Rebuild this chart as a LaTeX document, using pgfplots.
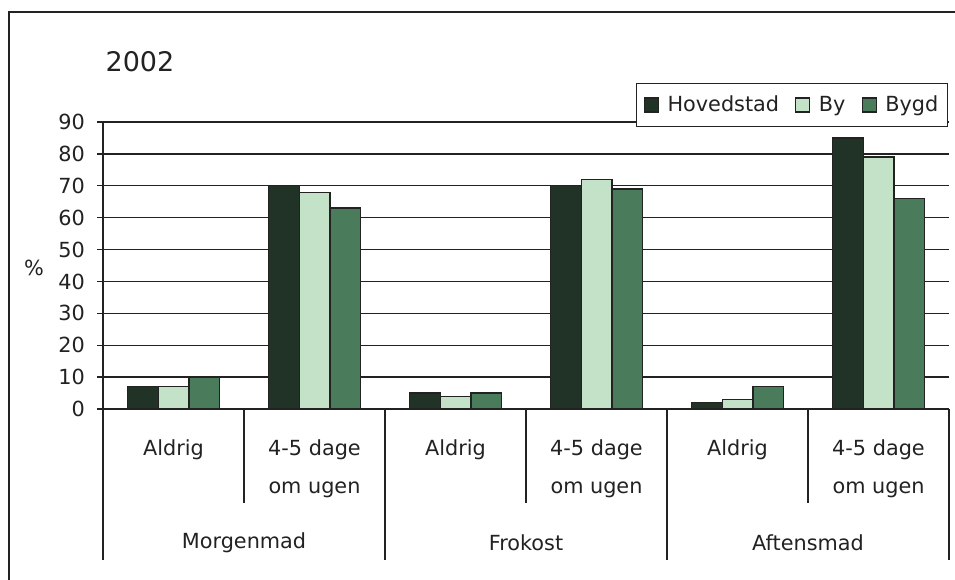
\documentclass[border=0pt]{standalone}
\usepackage{pgfplots}
\pgfplotsset{compat=1.18}
\usepackage{fontspec}
\setmainfont{DejaVu Sans}
\definecolor{hov}{RGB}{33,50,38}
\definecolor{by}{RGB}{196,226,200}
\definecolor{bygd}{RGB}{74,124,92}
\definecolor{ln}{RGB}{34,34,34}
\begin{document}
\fontsize{20.8}{25}\selectfont
\begin{tikzpicture}[x=1pt,y=1pt]
\useasboundingbox (0,0) rectangle (955,580);
\draw[ln, line width=1.6pt] (9,0) -- (9,568) -- (955,568);
\node[font=\fontsize{27}{32}\selectfont, text=ln] at (140,518) {2002};
\node[text=ln] at (34,312) {\%};
\begin{axis}[
  at={(103pt,171pt)}, anchor=south west,
  scale only axis, width=846pt, height=287pt,
  xmin=0, xmax=6, ymin=0, ymax=90,
  axis lines=left,
  axis line style={-, line width=1.3pt, ln},
  xtick=\empty,
  ytick={0,10,...,90},
  ymajorgrids, grid style={line width=1.3pt, ln},
  ytick align=outside, major tick length=6pt,
  tick style={line width=1.3pt, ln},
  yticklabel style={text=ln, font=\fontsize{20.8}{25}\selectfont, xshift=-5pt},
  /pgf/number format/assume math mode=true,
  ybar=0pt, bar width=30.7pt,
  clip=false,
  legend columns=3,
  legend image code/.code={\draw[#1, line width=1.3pt] (0pt,-7pt) rectangle (14pt,7pt);},
  legend style={at={(0.9988,1.1359)}, anchor=north east, draw=ln, line width=1.3pt,
    fill=white, font=\fontsize{20.8}{25}\selectfont, text=ln,
    inner xsep=7pt, inner ysep=10pt,
    /tikz/every odd column/.append style={column sep=6.5pt},
    /tikz/every even column/.append style={column sep=14pt}},
]
\addplot[fill=hov, draw=ln, line width=1.3pt] coordinates {(0.5,7)(1.5,70)(2.5,5)(3.5,70)(4.5,2)(5.5,85)};
\addplot[fill=by, draw=ln, line width=1.3pt] coordinates {(0.5,7)(1.5,68)(2.5,4)(3.5,72)(4.5,3)(5.5,79)};
\addplot[fill=bygd, draw=ln, line width=1.3pt] coordinates {(0.5,10)(1.5,63)(2.5,5)(3.5,69)(4.5,7)(5.5,66)};
\legend{Hovedstad, By, Bygd}
\draw[ln, line width=1.3pt] (axis cs:0,0) -- ++(0pt,-151pt);
\pgfplotsinvokeforeach{1,3,5}{\draw[ln, line width=1.3pt] (axis cs:#1,0) -- ++(0pt,-94pt);}
\pgfplotsinvokeforeach{2,4,6}{\draw[ln, line width=1.3pt] (axis cs:#1,0) -- ++(0pt,-151pt);}
\pgfplotsinvokeforeach{0.5,2.5,4.5}{\node[text=ln] at (axis cs:#1,0) [yshift=-41pt] {Aldrig};}
\pgfplotsinvokeforeach{1.5,3.5,5.5}{\node[text=ln, align=center, font=\fontsize{20.8}{38}\selectfont] at (axis cs:#1,0) [yshift=-60pt] {4-5 dage\\om ugen};}
\node[text=ln] at (axis cs:1,0) [yshift=-134pt] {Morgenmad};
\node[text=ln] at (axis cs:3,0) [yshift=-134pt] {Frokost};
\node[text=ln] at (axis cs:5,0) [yshift=-134pt] {Aftensmad};
\end{axis}
\end{tikzpicture}
\end{document}
